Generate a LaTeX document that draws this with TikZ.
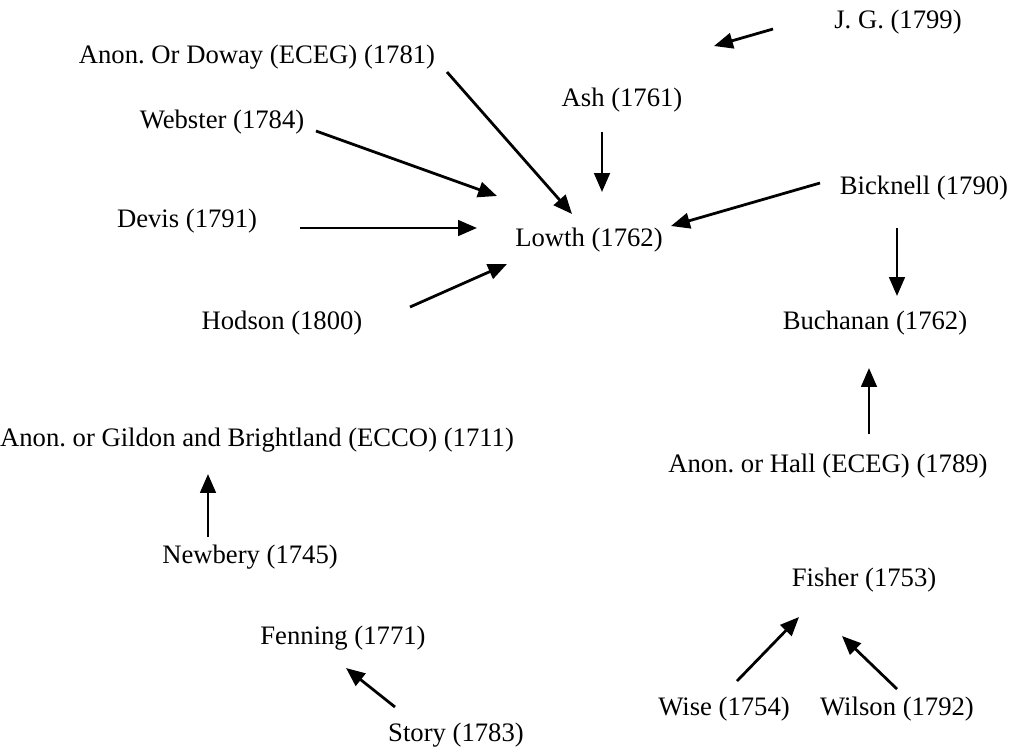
\documentclass[tikz,border=0pt]{standalone}
\usepackage{fontspec}
\setmainfont{Liberation Serif}
\usetikzlibrary{arrows.meta}
\frenchspacing

\tikzset{
  book/.style={inner sep=0pt, font=\fontsize{12}{14}\selectfont},
  arr/.style={line width=1.25pt, -{Triangle[length=8.5pt,width=7pt]}}
}

\begin{document}
\begin{tikzpicture}[x=0.45pt, y=-0.45pt]
			%%%%% START %%%%%
			\useasboundingbox (0,0) rectangle (1017,751);
			
			\node[book] (jg) at (898, 22) {J. G. (1799)};
			\node[book] (doway) at (257, 57) {Anon. Or Doway (ECEG) (1781)};
			\node[book] (ash) at (622, 100) {Ash (1761)};
			\node[book] (webster) at (222, 122) {Webster (1784)};
			\node[book] (bicknell) at (924, 188) {Bicknell (1790)};
			\node[book] (devis) at (187, 221) {Devis (1791)};
			\node[book] (lowth) at (589, 240) {Lowth (1762)};
			\node[book] (hodson) at (282, 323) {Hodson (1800)};
			\node[book] (buchanan) at (875, 323) {Buchanan (1762)};
			\node[book] (gildon) at (257, 440) {Anon. or Gildon and Brightland (ECCO) (1711)};
			\node[book] (hall) at (828, 466) {Anon. or Hall (ECEG) (1789)};
			\node[book] (newbery) at (250, 557) {Newbery (1745)};
			\node[book] (fisher) at (864, 580) {Fisher (1753)};
			\node[book] (fenning) at (343, 638) {Fenning (1771)};
			\node[book] (wise) at (724, 709) {Wise (1754)};
			\node[book] (wilson) at (897, 709) {Wilson (1792)};
			\node[book] (story) at (456, 735) {Story (1783)};
			
			% into Lowth
			\draw[arr] ([shift={(-125,7)}]jg.center) -- ([shift={(92,-54)}]ash.center);
			\draw[arr] ([shift={(190,15)}]doway.center) -- ([shift={(-17,-26)}]lowth.center);
			\draw[arr] ([shift={(-20,32)}]ash.center) -- ([shift={(13,-48)}]lowth.center);
			\draw[arr] ([shift={(94,9)}]webster.center) -- ([shift={(-92,-44)}]lowth.center);
			\draw[arr] ([shift={(-104,-5)}]bicknell.center) -- ([shift={(82,-14)}]lowth.center);
			\draw[arr] ([shift={(113,7)}]devis.center) -- ([shift={(-112,-12)}]lowth.center);
			\draw[arr] ([shift={(128,-16)}]hodson.center) -- ([shift={(-82,24)}]lowth.center);
			
			% into Buchanan
			\draw[arr] ([shift={(-27,40)}]bicknell.center) -- ([shift={(22,-27)}]buchanan.center);
			\draw[arr] ([shift={(41,-32)}]hall.center) -- ([shift={(-6,45)}]buchanan.center);
			
			% the rest
			\draw[arr] ([shift={(-42,-20)}]newbery.center) -- ([shift={(-49,34)}]gildon.center);
			\draw[arr] ([shift={(-61,-28)}]story.center) -- ([shift={(3,30)}]fenning.center);
			\draw[arr] ([shift={(13,-28)}]wise.center) -- ([shift={(-65,37)}]fisher.center);
			\draw[arr] ([shift={(0,-20)}]wilson.center) -- ([shift={(-22,56)}]fisher.center);
			
			%%%%% END %%%%%
\end{tikzpicture}
\end{document}
